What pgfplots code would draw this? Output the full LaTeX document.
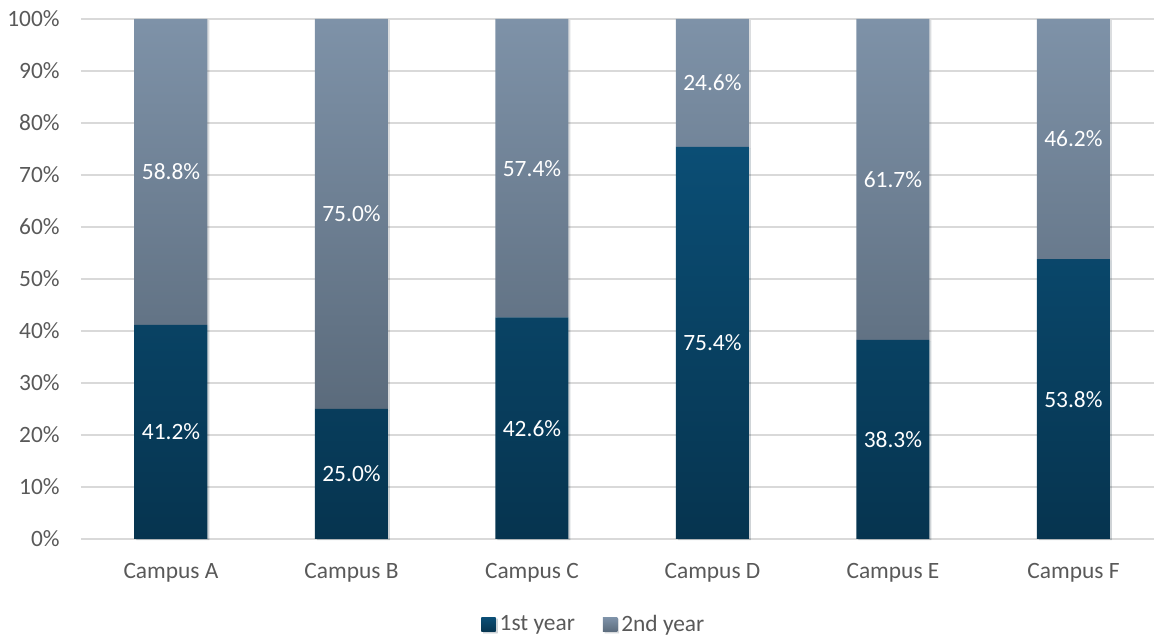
\documentclass[border=0pt]{standalone}
\usepackage{pgfplots}
\usepackage{pgfplotstable}
\pgfplotsset{compat=1.18}
\usepackage{fontspec}
\setmainfont{Carlito}

\definecolor{firstbot}{HTML}{06344F}
\definecolor{firsttop}{HTML}{0B4E75}
\definecolor{secbot}{HTML}{5B6B7C}
\definecolor{sectop}{HTML}{7E92A8}
\definecolor{gridgray}{HTML}{D9D9D9}
\definecolor{ticktext}{HTML}{595959}

% share of students by year of study, per campus (percent)
\pgfplotstableread{
x first second
0 41.2 58.8
1 25.0 75.0
2 42.6 57.4
3 75.4 24.6
4 38.3 61.7
5 53.8 46.2
}\datatable

\newcommand{\chartfont}{\fontsize{11.7}{14}\selectfont}

% common geometry of the bar axis and the label overlay
\pgfplotsset{
  campusframe/.style={
    at={(40.375pt,48pt)}, anchor=south west,
    scale only axis, width=536.6pt, height=260pt,
    xmin=-0.5, xmax=5.446, ymin=0, ymax=100,
    clip=false,
    /pgf/number format/assume math mode=true,
  },
  barshadow/.style={preaction={fill=black, fill opacity=0.10,
    transform canvas={xshift=0.9pt, yshift=-0.6pt}}},
}

\begin{document}
\begin{tikzpicture}
\path[use as bounding box] (0,0) rectangle (577pt,317.5pt);
\begin{axis}[
  campusframe,
  ybar stacked, bar width=36.5pt,
  axis line style={draw=none},
  major tick length=0pt,
  ymajorgrids, grid style={gridgray, line width=0.75pt},
  ytick={0,10,...,100},
  yticklabel={\pgfmathprintnumber{\tick}\%},
  yticklabel style={font=\chartfont, text=ticktext, xshift=-7pt},
  xtick=data,
  xticklabels={Campus A,Campus B,Campus C,Campus D,Campus E,Campus F},
  xticklabel style={font=\chartfont, text=ticktext, yshift=-8.5pt},
  legend style={at={(0.479,-0.165)}, anchor=center, draw=none, fill=none,
    legend columns=2, font=\chartfont, text=ticktext,
    /tikz/every even column/.append style={column sep=12pt}},
  legend image code/.code={\path[#1] (0pt,-3.6pt) rectangle (7.2pt,3.6pt);},
]
\addplot[draw=none, shade, bottom color=firstbot, top color=firsttop, barshadow]
  table[x=x, y=first] {\datatable};
\addlegendentry{1st year}
\addplot[draw=none, shade, bottom color=secbot, top color=sectop, barshadow]
  table[x=x, y=second] {\datatable};
\addlegendentry{2nd year}
\end{axis}

% value labels, centred in each segment
\begin{axis}[
  campusframe,
  hide axis,
  point meta=explicit,
  nodes near coords={\pgfmathprintnumber[fixed,fixed zerofill,precision=1]{\pgfplotspointmeta}\%},
  nodes near coords align=center,
  every node near coord/.append style={font=\chartfont, text=white, anchor=center},
]
\addplot[draw=none, mark=none]
  table[x=x, y expr=\thisrow{first}/2, meta=first] {\datatable};
\addplot[draw=none, mark=none]
  table[x=x, y expr=\thisrow{first}+\thisrow{second}/2, meta=second] {\datatable};
\end{axis}
\end{tikzpicture}
\end{document}
